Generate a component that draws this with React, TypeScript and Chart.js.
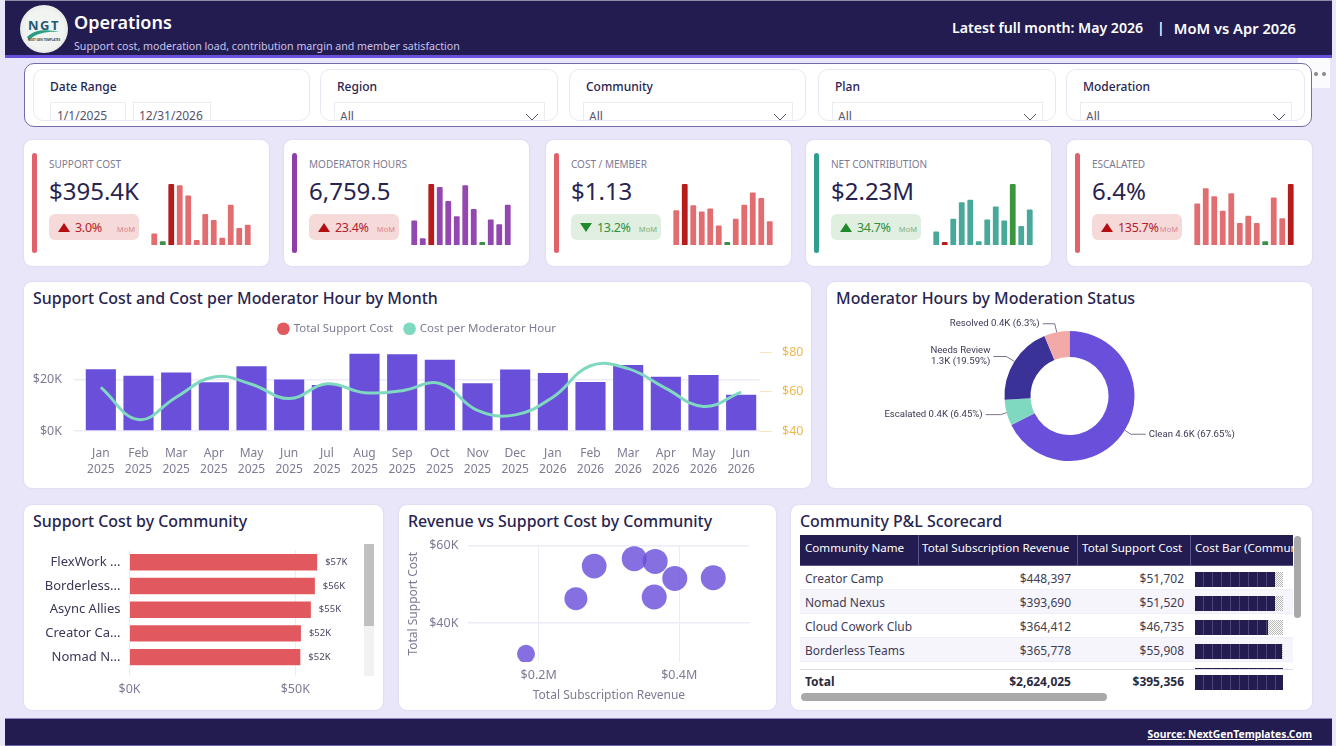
import { useEffect, useRef } from "react"
import type { CSSProperties, ReactNode } from "react"
import { Chart, registerables } from "chart.js"

Chart.register(...registerables)

const FONT = '"Noto Sans", sans-serif'
const NAVY = "#231c50"
const PURPLE = "#6a4fdb"
const TEAL = "#7fd8c0"
const CORAL = "#e1595e"
const INK = "#28244f"
const MUTED = "#7d7b94"
const GRID = "#eeebf9"

// Month axis
const months = ["Jan", "Feb", "Mar", "Apr", "May", "Jun", "Jul", "Aug", "Sep", "Oct", "Nov", "Dec", "Jan", "Feb", "Mar", "Apr", "May", "Jun"]
const monthYears = [2025, 2025, 2025, 2025, 2025, 2025, 2025, 2025, 2025, 2025, 2025, 2025, 2026, 2026, 2026, 2026, 2026, 2026]
const monthlySupportCost = [23900, 21400, 22700, 18900, 25100, 19900, 17800, 29900, 29700, 27600, 18500, 23800, 22500, 19000, 25600, 21000, 21700, 14000]
const costPerModeratorHour = [62.2, 45.8, 57.2, 67.5, 63.8, 56.5, 64, 59.5, 60.5, 64.2, 50.5, 48.2, 57.2, 73.2, 71.7, 61.7, 52.5, 59.8]
const costTicks = [0, 20000]
const rateTicks = [40, 60, 80]

// Donut
const statusNames = ["Clean", "Escalated", "Needs Review", "Resolved"]
const statusHours = [4573, 436, 1324, 426]
const statusCallouts = [["Clean 4.6K (67.65%)"], ["Escalated 0.4K (6.45%)"], ["Needs Review", "1.3K (19.59%)"], ["Resolved 0.4K (6.3%)"]]

// Communities
const topCommunityLabels = ["FlexWork ...", "Borderless...", "Async Allies", "Creator Ca...", "Nomad N..."]
const topCommunityCost = [56600, 55908, 54700, 51702, 51520]
const communityRevenue = [448397, 393690, 364412, 365778, 336000, 279000, 253000, 182000]
const communityCost = [51702, 51520, 46735, 55908, 56600, 54700, 46300, 32100]

// Scorecard
const scorecardNames = ["Creator Camp", "Nomad Nexus", "Cloud Cowork Club", "Borderless Teams", "FlexWork Hub"]
const scorecardHeaders = ["Community Name", "Total Subscription Revenue", "Total Support Cost", "Cost Bar (Commun"]
const totalRevenue = 2624025
const totalCost = 395356

// KPI cards
const kpiTitles = ["SUPPORT COST", "MODERATOR HOURS", "COST / MEMBER", "NET CONTRIBUTION", "ESCALATED"]
const kpiValues = ["$395.4K", "6,759.5", "$1.13", "$2.23M", "6.4%"]
const kpiDeltas = ["3.0%", "23.4%", "13.2%", "34.7%", "135.7%"]
const kpiDeltaUp = [true, true, false, true, true]
const kpiDeltaGood = [false, false, true, true, false]
const sparkSupportCost = [19, 6, 100, 98, 81, 8, 51, 41, 12, 66, 28, 33]
const sparkModeratorHours = [40, 11, 100, 95, 72, 47, 98, 59, 5, 42, 34, 66]
const sparkCostPerMember = [57, 100, 65, 55, 60, 32, 5, 43, 66, 86, 77, 39]
const sparkNetContribution = [22, 5, 43, 70, 74, 6, 42, 63, 40, 100, 31, 58]
const sparkEscalated = [68, 93, 80, 56, 85, 36, 48, 36, 6, 78, 44, 100]

const kpiSeries = [sparkSupportCost, sparkModeratorHours, sparkCostPerMember, sparkNetContribution, sparkEscalated]
const kpiLeft = [24, 284, 546, 806, 1067]
const kpiAccent = ["#e0626a", "#8e3ea8", "#e0626a", "#2f9e8f", "#e0626a"]
const kpiBar = ["#e26d71", "#9347b0", "#e26d71", "#48a99a", "#e26d71"]
const kpiPeak = ["#b71c1c", "#b71c1c", "#b71c1c", "#3c963c", "#b71c1c"]
const kpiLow = ["#3c8f48", "#3c8f48", "#3c8f48", "#b71c1c", "#3c8f48"]

const slicers = [
  { title: "Region", x: 320, w: 238 },
  { title: "Community", x: 569, w: 237 },
  { title: "Plan", x: 818, w: 238 },
  { title: "Moderation", x: 1066, w: 239 },
]

const dollarsK = (v: number) => "$" + Math.round(v / 1000) + "K"
const money = (v: number) => "$" + v.toLocaleString("en-US")
const monthLabels = months.map((m, i) => [m, String(monthYears[i])])
// Pin axis sizes, and drop the room Chart.js keeps for half a tick label, so the plot areas line up
const fixedWidth = (w: number) => (scale: any) => { scale.width = w; scale.paddingTop = 0; scale.paddingBottom = 0 }
const fixedHeight = (h: number) => (scale: any) => { scale.height = h; scale.paddingLeft = 0; scale.paddingRight = 0 }
const onlyTicks = (values: number[]) => (scale: any) => { scale.ticks = values.map((value) => ({ value })) }

function ChartCanvas({ x, y, w, h, build }: { x: number; y: number; w: number; h: number; build: () => any }) {
  const ref = useRef<HTMLCanvasElement>(null)
  useEffect(() => {
    if (!ref.current) return
    const chart = new Chart(ref.current, build())
    return () => chart.destroy()
  }, [])
  return <canvas ref={ref} width={w} height={h} style={{ position: "absolute", left: x, top: y, width: w, height: h }} />
}

function Box({ x, y, w, h, style, children }: { x: number; y: number; w?: number; h?: number; style?: CSSProperties; children?: ReactNode }) {
  return <div style={{ position: "absolute", left: x, top: y, width: w, height: h, ...style }}>{children}</div>
}

function Label({ x, y, size, color, weight, right, children, style }: { x: number; y: number; size: number; color: string; weight?: number; right?: boolean; children: ReactNode; style?: CSSProperties }) {
  // y is the vertical centre of the text, x its left edge (or right edge if right)
  const pos: CSSProperties = right ? { right: 1336 - x } : { left: x }
  return (
    <div style={{ position: "absolute", top: y - 12, height: 24, lineHeight: "24px", fontSize: size, color, fontWeight: weight ?? 400, whiteSpace: "nowrap", ...pos, ...style }}>
      {children}
    </div>
  )
}

const cardStyle: CSSProperties = { background: "#fff", borderRadius: 8, boxShadow: "0 0 2px rgba(90,80,160,0.18)" }

function Card({ x, y, w, h, title }: { x: number; y: number; w: number; h: number; title?: string }) {
  return (
    <>
      <Box x={x} y={y} w={w} h={h} style={cardStyle} />
      {title && <Label x={x + 9} y={y + 15.5} size={15.95} color={INK} weight={500}>{title}</Label>}
    </>
  )
}

function sparkConfig(index: number) {
  const values = kpiSeries[index]
  const peak = values.indexOf(Math.max(...values))
  const low = values.indexOf(Math.min(...values))
  return {
    type: "bar",
    data: {
      labels: values.map((_, i) => String(i + 1)),
      datasets: [{
        data: values,
        backgroundColor: values.map((_, i) => (i === peak ? kpiPeak[index] : i === low ? kpiLow[index] : kpiBar[index])),
        categoryPercentage: 0.68,
        barPercentage: 1,
        borderRadius: 1,
      }],
    },
    options: {
      responsive: false,
      animation: false,
      plugins: { legend: { display: false }, tooltip: { enabled: false } },
      scales: { x: { display: false }, y: { display: false, min: 0, max: 100 } },
    },
  }
}

function KpiCard({ index }: { index: number }) {
  const x = kpiLeft[index]
  const good = kpiDeltaGood[index]
  const tone = good ? "#2f8f3e" : "#b5202a"
  const triangle = kpiDeltaUp[index]
    ? { borderBottom: `9px solid ${good ? "#1f8a2e" : "#b40d12"}` }
    : { borderTop: `9px solid ${good ? "#1f8a2e" : "#b40d12"}` }
  return (
    <>
      <Box x={x} y={140} w={245} h={126} style={cardStyle} />
      <Box x={x + 8} y={153} w={5} h={100} style={{ background: kpiAccent[index], borderRadius: 3 }} />
      <Label x={x + 25} y={163.5} size={10} color={MUTED}>{kpiTitles[index]}</Label>
      <Label x={x + 25} y={190.5} size={24} color={INK}>{kpiValues[index]}</Label>
      <Box x={x + 25} y={214} w={90} h={26} style={{ background: good ? "#e0efe0" : "#f6dada", borderRadius: 6 }} />
      <Box x={x + 34} y={223} w={0} h={0} style={{ borderLeft: "6px solid transparent", borderRight: "6px solid transparent", ...triangle }} />
      <Label x={x + 51} y={228} size={12.5} color={tone} style={{ letterSpacing: -0.3 }}>{kpiDeltas[index]}</Label>
      <Label x={x + 111} y={229} size={7.5} color={good ? "#79b184" : "#d9868b"} right>MoM</Label>
      <ChartCanvas x={x + 126} y={184} w={102} h={61} build={() => sparkConfig(index)} />
    </>
  )
}

const comboConfig = () => ({
  type: "bar",
  data: {
    labels: monthLabels,
    datasets: [
      {
        type: "line",
        label: "Cost per Moderator Hour",
        data: costPerModeratorHour,
        yAxisID: "rate",
        borderColor: TEAL,
        borderWidth: 3,
        pointRadius: 0,
        tension: 0.42,
        order: 0,
      },
      {
        type: "bar",
        label: "Total Support Cost",
        data: monthlySupportCost,
        yAxisID: "cost",
        backgroundColor: PURPLE,
        categoryPercentage: 0.8,
        barPercentage: 1,
        order: 1,
      },
    ],
  },
  options: {
    responsive: false,
    animation: false,
    plugins: {
      tooltip: { enabled: false },
      legend: {
        position: "top",
        labels: {
          usePointStyle: true,
          pointStyle: "circle",
          boxWidth: 9,
          boxHeight: 9,
          padding: 12,
          color: MUTED,
          font: { family: FONT, size: 11.5 },
          generateLabels: () => [
            { text: "Total Support Cost", fillStyle: CORAL, strokeStyle: CORAL, lineWidth: 0, pointStyle: "circle", fontColor: MUTED },
            { text: "Cost per Moderator Hour", fillStyle: TEAL, strokeStyle: TEAL, lineWidth: 0, pointStyle: "circle", fontColor: MUTED },
          ],
        },
      },
    },
    scales: {
      x: {
        afterFit: fixedHeight(57),
        grid: { display: false },
        border: { display: false },
        ticks: { color: MUTED, font: { family: FONT, size: 12, lineHeight: 1.38 }, padding: 6, maxRotation: 0, autoSkip: false },
      },
      cost: {
        position: "left",
        min: 0,
        max: 33500,
        afterFit: fixedWidth(58),
        afterBuildTicks: onlyTicks(costTicks),
        border: { display: false },
        grid: { color: GRID, lineWidth: 1.5, tickLength: 8 },
        ticks: { color: MUTED, font: { family: FONT, size: 12.5 }, padding: 12, callback: (v: number) => dollarsK(v) },
      },
      rate: {
        position: "right",
        min: 40,
        max: 84,
        afterFit: fixedWidth(51),
        afterBuildTicks: onlyTicks(rateTicks),
        border: { display: false },
        grid: { drawOnChartArea: false, color: "#f8e6bf", tickLength: 12 },
        ticks: { color: "#f0b84e", font: { family: FONT, size: 12.5 }, padding: 10, callback: (v: number) => "$" + v },
      },
    },
  },
})

// Leader line for each slice: elbow offset from the slice edge, then the run to the label
const calloutLines = [
  { ex: 6, ey: 4, run: 15 },
  { ex: -6, ey: 2, run: -15 },
  { ex: -8, ey: -5, run: -13 },
  { ex: -2, ey: -8.5, run: -12 },
]

const donutCallouts = {
  id: "donutCallouts",
  afterDatasetsDraw(chart: any) {
    const { ctx } = chart
    chart.getDatasetMeta(0).data.forEach((arc: any, i: number) => {
      const mid = (arc.startAngle + arc.endAngle) / 2
      const px = arc.x + Math.cos(mid) * arc.outerRadius
      const py = arc.y + Math.sin(mid) * arc.outerRadius
      const { ex, ey, run } = calloutLines[i]
      const endX = px + ex + run
      const endY = py + ey
      ctx.save()
      ctx.strokeStyle = "#77758a"
      ctx.lineWidth = 1
      ctx.beginPath()
      ctx.moveTo(px, py)
      ctx.lineTo(px + ex, endY)
      ctx.lineTo(endX, endY)
      ctx.stroke()
      ctx.fillStyle = "#3b3954"
      ctx.font = `9.6px Roboto, sans-serif`
      ctx.textBaseline = "middle"
      ctx.textAlign = run > 0 ? "left" : "right"
      const lines = statusCallouts[i]
      lines.forEach((line, n) => {
        ctx.fillText(line, endX + (run > 0 ? 3 : -3), endY + (n - (lines.length - 1) / 2) * 11)
      })
      ctx.restore()
    })
  },
}

const donutConfig = () => ({
  type: "doughnut",
  data: {
    labels: statusNames,
    datasets: [{
      data: statusHours,
      backgroundColor: [PURPLE, TEAL, "#3a3296", "#f4a9a9"],
      borderWidth: 0,
      radius: 65,
      cutout: "60%",
    }],
  },
  options: {
    responsive: false,
    animation: false,
    plugins: { legend: { display: false }, tooltip: { enabled: false } },
  },
  plugins: [donutCallouts],
})

const barValueLabels = {
  id: "barValueLabels",
  afterDatasetsDraw(chart: any) {
    const { ctx } = chart
    chart.getDatasetMeta(0).data.forEach((bar: any, i: number) => {
      ctx.save()
      ctx.fillStyle = "#4a4862"
      ctx.font = `9.5px ${FONT}`
      ctx.textBaseline = "middle"
      ctx.fillText(dollarsK(topCommunityCost[i]), bar.x + 8, bar.y)
      ctx.restore()
    })
  },
}

const communityBarConfig = () => ({
  type: "bar",
  data: {
    labels: topCommunityLabels,
    datasets: [{ data: topCommunityCost, backgroundColor: CORAL, categoryPercentage: 0.69, barPercentage: 1 }],
  },
  options: {
    indexAxis: "y",
    responsive: false,
    animation: false,
    layout: { padding: { top: 14.4, right: 2.4 } },
    plugins: { legend: { display: false }, tooltip: { enabled: false } },
    scales: {
      x: {
        min: 0,
        max: 70000,
        afterFit: fixedHeight(32),
        afterBuildTicks: onlyTicks([0, 50000]),
        border: { display: false },
        grid: { color: GRID, tickLength: 7 },
        ticks: { color: MUTED, font: { family: FONT, size: 12.5 }, padding: 6, callback: (v: number) => dollarsK(v) },
      },
      y: {
        afterFit: fixedWidth(105.5),
        border: { display: false },
        grid: { display: false, drawTicks: false },
        ticks: { color: "#3a3856", font: { family: FONT, size: 13 }, padding: 9, autoSkip: false },
      },
    },
  },
  plugins: [barValueLabels],
})

const scatterConfig = () => ({
  type: "scatter",
  data: {
    datasets: [{
      data: communityRevenue.map((revenue, i) => ({ x: revenue, y: communityCost[i] })),
      backgroundColor: "rgba(106,79,219,0.82)",
      borderWidth: 0,
      pointRadius: (c: any) => Math.min(12.5, 9 + (communityRevenue[c.dataIndex] - 182000) * 0.000035),
    }],
  },
  options: {
    responsive: false,
    animation: false,
    layout: { padding: { top: 8, right: 26.5 } },
    plugins: { legend: { display: false }, tooltip: { enabled: false } },
    scales: {
      x: {
        type: "linear",
        min: 100000,
        max: 500000,
        afterFit: fixedHeight(43),
        afterBuildTicks: onlyTicks([200000, 400000]),
        border: { display: false },
        grid: { color: GRID, drawTicks: false },
        title: { display: true, text: "Total Subscription Revenue", color: MUTED, font: { family: FONT, size: 12 }, padding: { top: 2, bottom: 2 } },
        ticks: { color: MUTED, font: { family: FONT, size: 12.5 }, padding: 6, callback: (v: number) => "$" + (v / 1000000).toFixed(1) + "M" },
      },
      y: {
        min: 30000,
        max: 60000,
        afterFit: fixedWidth(64.4),
        afterBuildTicks: onlyTicks([40000, 60000]),
        border: { display: false },
        grid: { color: GRID, lineWidth: 1.5, drawTicks: false },
        title: { display: true, text: "Total Support Cost", color: MUTED, font: { family: FONT, size: 12 }, padding: { top: 2, bottom: 4 } },
        ticks: { color: MUTED, font: { family: FONT, size: 12.5 }, padding: 10, callback: (v: number) => dollarsK(v) },
      },
    },
  },
})

function Chevron({ x, y }: { x: number; y: number }) {
  return (
    <svg style={{ position: "absolute", left: x, top: y }} width={14} height={8}>
      <path d="M1 1 L7 7 L13 1" fill="none" stroke="#55536b" strokeWidth={1} />
    </svg>
  )
}

function Slicer({ title, x, w }: { title: string; x: number; w: number }) {
  return (
    <Box x={x} y={69} w={w} h={52} style={{ background: "#fff", border: "1px solid #e9e7f3", borderRadius: 10, boxSizing: "border-box", overflow: "hidden" }}>
      <div style={{ position: "absolute", left: 16, top: 5, lineHeight: "24px", fontSize: 12, fontWeight: 500, color: INK }}>{title}</div>
      <div style={{ position: "absolute", left: 13, top: 32, width: w - 27, height: 30, border: "1px solid #ececf3", boxSizing: "border-box" }} />
      <div style={{ position: "absolute", left: 19, top: 35, lineHeight: "24px", fontSize: 12, color: "#55536b" }}>All</div>
      <Chevron x={w - 34} y={43} />
    </Box>
  )
}

function DateSlicer() {
  return (
    <Box x={33} y={69} w={277} h={52} style={{ background: "#fff", border: "1px solid #e9e7f3", borderRadius: 10, boxSizing: "border-box", overflow: "hidden" }}>
      <div style={{ position: "absolute", left: 16, top: 5, lineHeight: "24px", fontSize: 12, fontWeight: 500, color: INK }}>Date Range</div>
      <div style={{ position: "absolute", left: 16, top: 32, width: 76, height: 30, border: "1px solid #ececf3", boxSizing: "border-box" }} />
      <div style={{ position: "absolute", left: 99, top: 32, width: 78, height: 30, border: "1px solid #ececf3", boxSizing: "border-box" }} />
      <div style={{ position: "absolute", left: 23, top: 34, lineHeight: "24px", fontSize: 12, color: "#55536b" }}>1/1/2025</div>
      <div style={{ position: "absolute", left: 105, top: 34, lineHeight: "24px", fontSize: 12, color: "#55536b" }}>12/31/2026</div>
    </Box>
  )
}

function CostBar({ x, y, w, h, share }: { x: number; y: number; w: number; h: number; share: number }) {
  return (
    <>
      <Box x={x} y={y} w={w} h={h} style={{ background: "repeating-conic-gradient(#b9b9b9 0 25%, #fff 0 50%) 0 0 / 2px 2px" }} />
      <Box x={x} y={y} w={w * share} h={h} style={{ background: `repeating-linear-gradient(90deg, ${NAVY} 0 8.2px, #4b4578 8.2px 9px)` }} />
    </>
  )
}

function Scorecard() {
  const maxCost = Math.max(...communityCost)
  const rowTops = [566, 589.5, 613.5, 637.5, 662]
  const colX = [805, 1071, 1184, 1195]
  return (
    <>
      <Box x={800} y={535} w={493} h={31} style={{ background: NAVY }} />
      {[917.5, 1076.5, 1189.5].map((x) => <Box key={x} x={x} y={535} w={1} h={31} style={{ background: "#5b5590" }} />)}
      <Box x={800} y={565} w={493} h={1} style={{ background: "#5b5590" }} />
      <Label x={805} y={548} size={11.6} color="#fff">{scorecardHeaders[0]}</Label>
      <Label x={922} y={548} size={11.6} color="#fff">{scorecardHeaders[1]}</Label>
      <Label x={1082} y={548} size={11.6} color="#fff">{scorecardHeaders[2]}</Label>
      <div style={{ position: "absolute", left: 1195, top: 536, width: 98, height: 24, lineHeight: "24px", fontSize: 11.6, color: "#fff", overflow: "hidden", whiteSpace: "nowrap" }}>{scorecardHeaders[3]}</div>

      {/* rows are clipped where the total row starts */}
      <Box x={800} y={566} w={493} h={103} style={{ overflow: "hidden" }}>
        {rowTops.map((top, i) => (
          <div key={i} style={{ position: "absolute", left: 0, top: top - 566, width: 493, height: 24, background: i % 2 ? "#f6f5fc" : "#fff", borderBottom: "1px solid #f0eef8", boxSizing: "border-box" }}>
            <div style={{ position: "absolute", left: colX[0] - 800, top: 0, lineHeight: "25px", fontSize: 12, color: "#3f3d55" }}>{scorecardNames[i]}</div>
            <div style={{ position: "absolute", right: 1293 - colX[1], top: 0, lineHeight: "25px", fontSize: 12, color: "#3f3d55" }}>{money(communityRevenue[i])}</div>
            <div style={{ position: "absolute", right: 1293 - colX[2], top: 0, lineHeight: "25px", fontSize: 12, color: "#3f3d55" }}>{money(communityCost[i])}</div>
            <CostBar x={colX[3] - 800} y={6} w={88} h={15} share={communityCost[i] / maxCost} />
          </div>
        ))}
      </Box>
      <Box x={800} y={669} w={493} h={1} style={{ background: "#dcdbe6" }} />
      <Label x={805} y={681.5} size={12} color="#2b2a3d" weight={700}>Total</Label>
      <Label x={1071} y={681.5} size={12} color="#2b2a3d" weight={700} right>{money(totalRevenue)}</Label>
      <Label x={1184} y={681.5} size={12} color="#2b2a3d" weight={700} right>{money(totalCost)}</Label>
      <CostBar x={1195} y={675} w={88} h={15} share={1} />
      <Box x={801} y={693} w={306} h={8} style={{ background: "#a9a9a9", borderRadius: 4 }} />
      <Box x={1294} y={536} w={7} h={82} style={{ background: "#a9a9a9", borderRadius: 4 }} />
    </>
  )
}

function Logo() {
  return (
    <Box x={20} y={5} w={48} h={48} style={{ background: "radial-gradient(circle, #f2f4f2 55%, #d8dcd8 100%)", borderRadius: "50%", overflow: "hidden" }}>
      <div style={{ position: "absolute", left: 0, right: 0, top: 12, textAlign: "center", fontSize: 13, fontWeight: 700, color: "#1d5a78", letterSpacing: 1.5, lineHeight: "16px" }}>NGT</div>
      <svg style={{ position: "absolute", left: 0, top: 0 }} width={48} height={48}>
        <path d="M7 32 C14 24 28 24 40 27 C28 26 16 28 9 35 Z" fill="#2c9c83" />
      </svg>
      <div style={{ position: "absolute", left: 0, right: 0, top: 33, textAlign: "center", fontSize: 3, color: "#444", lineHeight: "5px", fontWeight: 700 }}>NEXT GEN TEMPLATES</div>
    </Box>
  )
}

export default function App() {
  return (
    <div style={{ position: "fixed", left: 0, top: 0, width: 1336, height: 746, overflow: "hidden", background: "#e9e6fa", fontFamily: FONT }}>
      {/* header */}
      <Box x={5} y={0} w={1327} h={58} style={{ background: NAVY, borderTop: "1.5px solid #8d8aa8", borderBottom: "3px solid #6a4fdb", boxSizing: "border-box" }} />
      <Logo />
      <Label x={74} y={22} size={18} color="#fff" weight={600}>Operations</Label>
      <Label x={74} y={46} size={10.65} color="#c9c2ec">Support cost, moderation load, contribution margin and member satisfaction</Label>
      <Label x={952} y={28} size={14.15} color="#fff" weight={600}>Latest full month: May 2026</Label>
      <Label x={1157} y={28} size={14} color="#fff" weight={600}>|</Label>
      <Label x={1296} y={28} size={14.7} color="#fff" weight={600} right>MoM vs Apr 2026</Label>

      {/* slicers */}
      <Box x={1298} y={58} w={32} h={30} style={{ background: "#fbfbfe" }} />
      <Box x={24} y={63} w={1288} h={64} style={{ background: "#fff", border: "1px solid #6f6ca6", borderRadius: 10, boxSizing: "border-box" }} />
      <DateSlicer />
      {slicers.map((s) => <Slicer key={s.title} {...s} />)}
      <Box x={1314} y={72} w={4} h={4} style={{ background: "#888", borderRadius: 2 }} />
      <Box x={1322} y={72} w={4} h={4} style={{ background: "#888", borderRadius: 2 }} />

      {kpiTitles.map((_, i) => <KpiCard key={i} index={i} />)}

      <Card x={24} y={282} w={787} h={206} title="Support Cost and Cost per Moderator Hour by Month" />
      <ChartCanvas x={24} y={311} w={787} h={177} build={comboConfig} />

      <Card x={827} y={282} w={485} h={206} title="Moderator Hours by Moderation Status" />
      <ChartCanvas x={827} y={312} w={485} h={168} build={donutConfig} />

      <Card x={24} y={505} w={359} h={205} title="Support Cost by Community" />
      <ChartCanvas x={24} y={536} w={340} h={165} build={communityBarConfig} />
      <Box x={364} y={544} w={10} h={132} style={{ background: "#f2f2f4" }} />
      <Box x={364} y={544} w={10} h={82} style={{ background: "#c0c0c0" }} />

      <Card x={399} y={505} w={377} h={205} title="Revenue vs Support Cost by Community" />
      <ChartCanvas x={404} y={533} w={372} h={172} build={scatterConfig} />

      <Card x={791} y={505} w={521} h={205} title="Community P&L Scorecard" />
      <Scorecard />

      {/* footer */}
      <Box x={5} y={718} w={1327} h={28} style={{ background: NAVY, borderTop: "1.5px solid #8d86c4", borderBottom: "1px solid #6a62a8", boxSizing: "border-box" }} />
      <Label x={1312} y={734} size={10.35} color="#fff" weight={700} right style={{ textDecoration: "underline" }}>Source: NextGenTemplates.Com</Label>
    </div>
  )
}
